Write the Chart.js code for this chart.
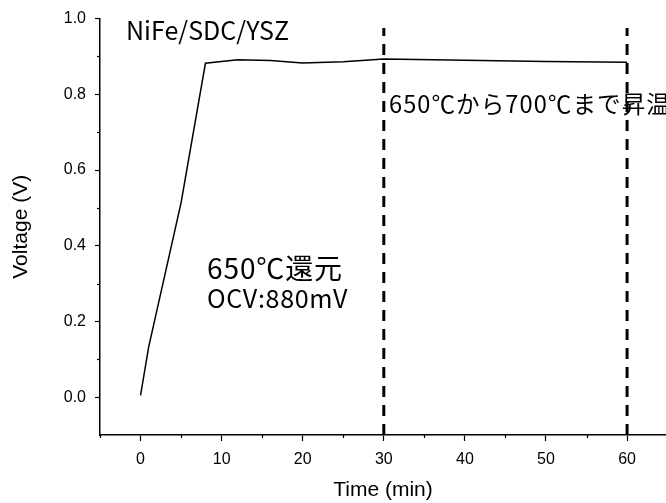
<!DOCTYPE html>
<html>
<head>
<meta charset="utf-8">
<script src="https://cdn.jsdelivr.net/npm/chart.js@4"></script>
<style>
  html, body { margin: 0; padding: 0; background: #fff; }
  #wrap { width: 666px; height: 503px; }
</style>
</head>
<body>
<div id="wrap"><canvas id="ocvChart"></canvas></div>
<script>
// OCV of the NiFe/SDC/YSZ cell during reduction and heating
const timeMin = [0, 1, 5, 8, 12, 16, 20, 25, 30, 40, 50, 60];
const voltage = [0.005, 0.132, 0.514, 0.882, 0.891, 0.889, 0.883, 0.886, 0.893, 0.890, 0.887, 0.885];

// dashed markers for the 650 -> 700 C heating step
const markerTimes = [30, 60];
const markerSpan = [-0.1, 0.975];

const xTicks = [-5, 0, 5, 10, 15, 20, 25, 30, 35, 40, 45, 50, 55, 60];
const yTicks = [-0.1, 0.0, 0.1, 0.2, 0.3, 0.4, 0.5, 0.6, 0.7, 0.8, 0.9, 1.0];

const arial = 'Liberation Sans, Arial, sans-serif';
const tickFont = { family: arial, size: 16 };
const titleFont = { family: arial, size: 21 };
const jpFont = '"Noto Sans CJK JP", "Noto Sans", sans-serif';

const isMajorX = v => v % 10 === 0;
const isMajorY = v => Math.abs(Math.round(v * 10)) % 2 === 0 && v >= 0;

// short minor tick marks, drawn over the axes
const minorTicks = {
  id: 'minorTicks',
  afterDraw(chart) {
    const { ctx, scales: { x, y }, chartArea } = chart;
    ctx.save();
    ctx.strokeStyle = '#000';
    ctx.lineWidth = 1.2;
    xTicks.filter(v => !isMajorX(v)).forEach(v => {
      const px = Math.round(x.getPixelForValue(v)) + 0.5;
      ctx.beginPath();
      ctx.moveTo(px, chartArea.bottom);
      ctx.lineTo(px, chartArea.bottom + 3);
      ctx.stroke();
    });
    yTicks.filter(v => !isMajorY(v) && v > 0).forEach(v => {
      const py = Math.round(y.getPixelForValue(v)) + 0.5;
      ctx.beginPath();
      ctx.moveTo(chartArea.left, py);
      ctx.lineTo(chartArea.left - 3, py);
      ctx.stroke();
    });
    ctx.restore();
  }
};

// text labels inside the plot: each spans the given width, with the
// glyphs scaled by `shrink` and the rest taken up by letter spacing
const notes = [
  { text: 'NiFe/SDC/YSZ', x: 126, y: 30, width: 163, shrink: 1 },
  { text: '650℃から700℃まで昇温', x: 389, y: 104, width: 282, shrink: 0.95 },
  { text: '650℃還元', x: 207, y: 268, width: 136, shrink: 0.96 },
  { text: 'OCV:880mV', x: 207, y: 298, width: 141, shrink: 0.96 }
];

const noteText = {
  id: 'noteText',
  afterDraw(chart) {
    const { ctx } = chart;
    ctx.save();
    ctx.fillStyle = '#000';
    ctx.textBaseline = 'middle';
    ctx.textAlign = 'left';
    notes.forEach(n => {
      ctx.letterSpacing = '0px';
      ctx.font = `100px ${jpFont}`;
      const size = n.shrink * 100 * n.width / ctx.measureText(n.text).width;
      ctx.font = `${size.toFixed(1)}px ${jpFont}`;
      const chars = Array.from(n.text).length;
      const gap = (n.width - ctx.measureText(n.text).width) / chars;
      ctx.letterSpacing = `${gap.toFixed(2)}px`;
      ctx.fillText(n.text, n.x, n.y);
    });
    ctx.restore();
  }
};

const markerSets = markerTimes.map(t => ({
  data: markerSpan.map(v => ({ x: t, y: v })),
  borderColor: '#000',
  borderWidth: 3,
  borderDash: [11, 8],
  pointRadius: 0,
  fill: false
}));

new Chart(document.getElementById('ocvChart'), {
  type: 'line',
  data: {
    datasets: [
      {
        data: timeMin.map((t, i) => ({ x: t, y: voltage[i] })),
        borderColor: '#000',
        borderWidth: 1.5,
        pointRadius: 0,
        tension: 0,
        fill: false
      },
      ...markerSets
    ]
  },
  options: {
    responsive: true,
    maintainAspectRatio: false,
    animation: false,
    layout: { padding: { top: 17, right: 0, bottom: 0, left: 0 } },
    plugins: {
      legend: { display: false },
      tooltip: { enabled: false }
    },
    scales: {
      x: {
        type: 'linear',
        min: -5,
        max: 64.8,
        afterFit: s => { s.height = 68; },
        afterBuildTicks: s => { s.ticks = xTicks.map(v => ({ value: v })); },
        ticks: {
          color: '#000',
          font: tickFont,
          padding: 9,
          maxRotation: 0,
          autoSkip: false,
          callback: v => (isMajorX(v) ? String(v) : '')
        },
        grid: {
          drawOnChartArea: false,
          drawTicks: true,
          tickLength: 6,
          tickWidth: 1.2,
          tickColor: c => (isMajorX(c.tick.value) ? '#000' : 'rgba(0,0,0,0)')
        },
        border: { display: true, color: '#000', width: 1.5 },
        title: {
          display: true,
          text: 'Time (min)',
          color: '#000',
          font: titleFont,
          padding: { top: 0, bottom: 0 }
        }
      },
      y: {
        type: 'linear',
        min: -0.1,
        max: 1.0,
        afterFit: s => { s.width = 100; },
        afterBuildTicks: s => { s.ticks = yTicks.map(v => ({ value: v })); },
        ticks: {
          color: '#000',
          font: tickFont,
          padding: 9,
          autoSkip: false,
          callback: v => (isMajorY(v) ? v.toFixed(1) : '')
        },
        grid: {
          drawOnChartArea: false,
          drawTicks: true,
          tickLength: 5,
          tickWidth: 1.2,
          tickColor: c => (isMajorY(c.tick.value) ? '#000' : 'rgba(0,0,0,0)')
        },
        border: { display: true, color: '#000', width: 1.5 },
        title: {
          display: true,
          text: 'Voltage (V)',
          color: '#000',
          font: titleFont,
          padding: { top: 9, bottom: 0 }
        }
      }
    }
  },
  plugins: [minorTicks, noteText]
});
</script>
</body>
</html>
